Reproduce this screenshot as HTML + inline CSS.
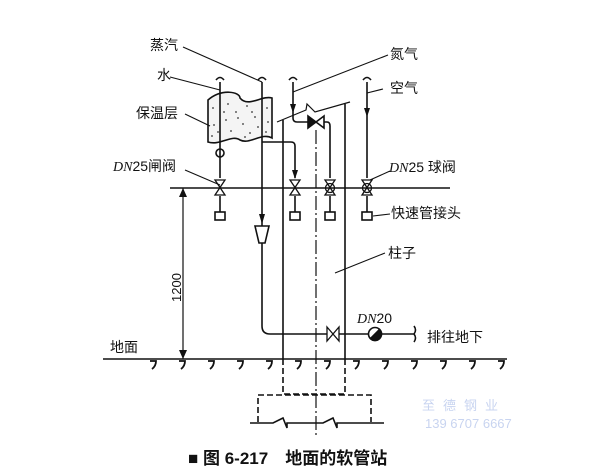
<!DOCTYPE html><html><head><meta charset="utf-8"><style>body{margin:0;background:#fff}svg{display:block}text{font-family:"Liberation Sans","Noto Sans CJK SC",sans-serif;fill:#111}</style></head><body>
<svg width="600" height="476" viewBox="0 0 600 476" xmlns="http://www.w3.org/2000/svg">
<g stroke="#111" stroke-width="1.6" fill="none">
<path d="M208,100 C222,88 240,92 240,98 C248,108 262,95 272,98 L272,138 C262,132 250,145 240,140 C232,134 220,146 208,142 Z" fill="#f4f4f4"/>
</g>
<g fill="#333">
<circle cx="213" cy="108" r="0.9"/><circle cx="228" cy="104" r="0.9"/><circle cx="236" cy="112" r="0.9"/><circle cx="247" cy="106" r="0.9"/><circle cx="255" cy="117" r="0.9"/><circle cx="267" cy="108" r="0.9"/><circle cx="214" cy="125" r="0.9"/><circle cx="226" cy="120" r="0.9"/><circle cx="231" cy="131" r="0.9"/><circle cx="243" cy="124" r="0.9"/><circle cx="250" cy="133" r="0.9"/><circle cx="258" cy="127" r="0.9"/><circle cx="268" cy="122" r="0.9"/><circle cx="212" cy="136" r="0.9"/><circle cx="238" cy="118" r="0.9"/><circle cx="252" cy="112" r="0.9"/><circle cx="224" cy="112" r="0.9"/><circle cx="266" cy="132" r="0.9"/><circle cx="218" cy="132" r="0.9"/><circle cx="245" cy="137" r="0.9"/>
</g>
<g stroke="#111" stroke-width="1.6" fill="none">
<path d="M220,82 V178 M220,196 V212"/>
<circle cx="220" cy="153" r="4"/>
<path d="M262,82 V226"/>
<path d="M262,142 H291 Q295,142 295,146 V178 M295,196 V212"/>
<path d="M293,82 V118 Q293,122 297,122 H308 M324,122 H327 Q330,122 330,126 V178 M330,196 V212"/>
<path d="M367,82 V178 M367,196 V212"/>
<path d="M216,80 q4,-5 8,0 M258,80 q4,-5 8,0 M289,80 q4,-5 8,0 M363,80 q4,-5 8,0"/>
<path d="M215,180 L225,180 L215,195 L225,195 Z M290,180 L300,180 L290,195 L300,195 Z" stroke-width="1.3"/>
<path d="M325,180 L335,180 L325,195 L335,195 Z M362,180 L372,180 L362,195 L372,195 Z" stroke-width="1.3"/>
<circle cx="330" cy="188" r="4.5" stroke-width="1.3"/><circle cx="367" cy="188" r="4.5" stroke-width="1.3"/>
<path d="M308,116 L316,122 L308,128 Z" fill="#111"/><path d="M324,116 L316,122 L324,128 Z" fill="#fff"/>
<rect x="215" y="212" width="10" height="8" fill="#fff"/><rect x="290" y="212" width="10" height="8" fill="#fff"/>
<rect x="325" y="212" width="10" height="8" fill="#fff"/><rect x="362" y="212" width="10" height="8" fill="#fff"/>
<path d="M170,188 H450"/>
<path d="M255,226 H269 L265,243 H259 Z" fill="#fff"/>
<path d="M262,243 V326 Q262,334 270,334 H327 M339,334 H368 M382,334 H414 q3,-4 0,-8 M414,334 q3,4 0,8"/>
<path d="M327,327 L339,341 L339,327 L327,341 Z" stroke-width="1.3" fill="#fff"/>
<circle cx="375" cy="334" r="6.5" fill="#fff"/><path d="M375,334 m-4.6,4.6 a6.5,6.5 0 0 0 9.2,-9.2 z" fill="#111"/>
<path d="M283,120 V359 M345,104 V359"/>
<path d="M277,122 L306,110 L307,104 L315,112 L350,102" stroke-width="1.2"/>
<path d="M316,130 V436" stroke-width="1.2" stroke-dasharray="14,3,2,3"/>
<path d="M283,359 V394 H345 V359" stroke-dasharray="6,3"/>
<path d="M258,422 V395 H371 V422" stroke-dasharray="6,3"/>
<path d="M250,423 H273 L283,418 L287,428 L287,423 H323 L333,418 L337,428 L337,423 H384"/>
<path d="M103,359 H507"/>
<path d="M183,188 V359" stroke-width="1.2"/>
<path d="M183,47 L262,82 M170,77 L220,90 M185,114 L210,126 M185,170 L220,185 M388,55 L293,92 M383,89 L367,93 M390,171 L370,180 M390,214 L373,216 M385,253 L335,273" stroke-width="1.1"/>
</g>
<g fill="#111">
<path d="M179,197 L183,188 L187,197 Z M179,350 L183,359 L187,350 Z"/>
<path d="M259,214 L262,224 L265,214 Z M292,170 L295,179 L298,170 Z M290,104 L293,113 L296,104 Z M364,108 L367,117 L370,108 Z"/>
</g>
<g stroke="#111" stroke-width="1.8" fill="none">
<path d="M150,361 h6 q0,5 -4,8 M179,361 h6 q0,5 -4,8 M208,361 h6 q0,5 -4,8 M237,361 h6 q0,5 -4,8 M266,361 h6 q0,5 -4,8 M295,361 h6 q0,5 -4,8 M324,361 h6 q0,5 -4,8 M353,361 h6 q0,5 -4,8 M382,361 h6 q0,5 -4,8 M411,361 h6 q0,5 -4,8 M440,361 h6 q0,5 -4,8 M469,361 h6 q0,5 -4,8 M498,361 h6 q0,5 -4,8"/>
</g>
<g font-size="14">
<text x="150" y="50">蒸汽</text>
<text x="157" y="80">水</text>
<text x="136" y="118">保温层</text>
<text x="113" y="171"><tspan font-family="Liberation Serif" font-style="italic">DN</tspan>25闸阀</text>
<text x="390" y="59">氮气</text>
<text x="390" y="93">空气</text>
<text x="389" y="172"><tspan font-family="Liberation Serif" font-style="italic">DN</tspan>25 球阀</text>
<text x="391" y="218">快速管接头</text>
<text x="388" y="258">柱子</text>
<text x="357" y="323"><tspan font-family="Liberation Serif" font-style="italic">DN</tspan>20</text>
<text x="427" y="342">排往地下</text>
<text x="110" y="352">地面</text>
<text transform="translate(181,302) rotate(-90)" font-size="13">1200</text>
</g>
<text x="188" y="464" font-size="17" font-weight="bold">■ 图 6-217　地面的软管站</text>
<text x="422" y="410" font-size="13" style="fill:#c8d4f0" letter-spacing="8">至德钢业</text>
<text x="425" y="428" font-size="13" style="fill:#c8d4f0">139 6707 6667</text>
</svg></body></html>
